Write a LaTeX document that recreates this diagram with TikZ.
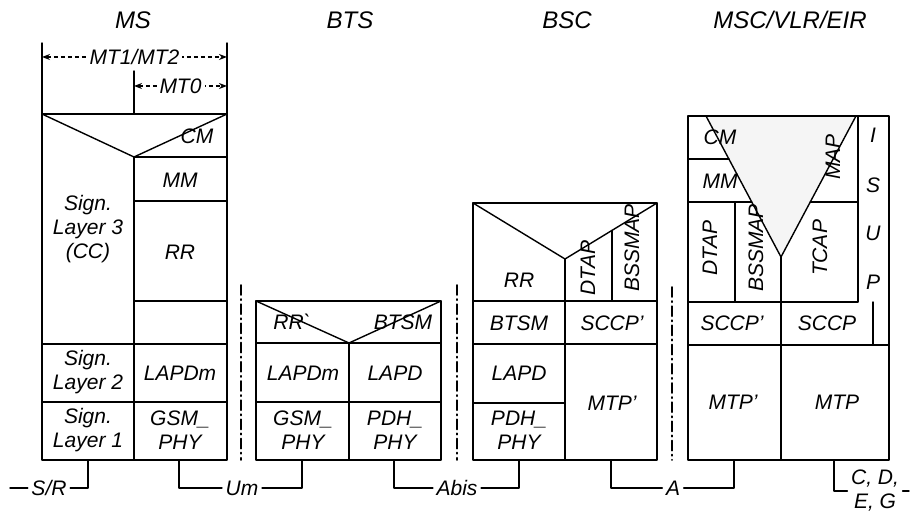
\documentclass[tikz,border=0pt]{standalone}
\usepackage{fontspec}
\setmainfont{Liberation Sans}
\usetikzlibrary{arrows.meta}
\begin{document}
\begin{tikzpicture}[x=0.5pt,y=-0.5pt,line join=round,line cap=round,>={Stealth[length=4pt,width=3pt]},line width=0.7pt]
	\tikzset{every node/.style={font=\itshape\fontsize{10.5}{12}\selectfont,align=center,inner sep=1.5pt},
		title/.style={font=\itshape\fontsize{12}{14}\selectfont},
		vert/.style={rotate=90},
		dimline/.style={<->,dash pattern=on 2pt off 1.5pt,line cap=butt},
		sepline/.style={line width=0.9pt,dash pattern=on 5pt off 2pt on 0.6pt off 2pt}}
	\useasboundingbox (0,0) rectangle (911,512);
	% titles
	\node[title] (ms) at (133,20) {MS};
	\node[title] (bts) at (350,20) {BTS};
	\node[title] (bsc) at (567,20) {BSC};
	\node[title] (msc) at (790,20) {MSC/VLR/EIR};
	% MS
	\draw (42,43)--(42,460)--(227,460)--(227,43);
	\draw (134,71)--(134,114);
	\draw (42,114)--(227,114);
	\draw (42,114)--(134,157)--(227,114);
	\draw (134,157)--(134,460);
	\foreach \y in {157,201,301}
	\draw (134,\y)--(227,\y);
	\foreach \y in {344,402}
	\draw (42,\y)--(227,\y);
	\draw[dimline] (42,57)--(227,57) node[midway,fill=white] (mt12) {MT1/MT2};
	\draw[dimline] (134,86)--(227,86) node[midway,fill=white] (mt0) {MT0};
	\node (mscm) at (197,136) {CM};
	\node (msmm) at (180,180) {MM};
	\node (msrr) at (180,252) {RR};
	\node (mssl3) at (88,229) {Sign.\\Layer 3\\(CC)};
	\node (mssl2) at (88,372) {Sign.\\Layer 2};
	\node (mslapdm) at (180,373) {LAPDm};
	\node (mssl1) at (88,430) {Sign.\\Layer 1};
	\node (msphy) at (180,430) {GSM\_\\PHY};
	% BTS
	\draw (256,301) rectangle (441,460);
	\draw (256,301)--(349,343)--(441,301);
	\draw (349,343)--(349,460);
	\foreach \y in {343,402}
	\draw (256,\y)--(441,\y);
	\node (btsrr) at (292,322) {RR\textasciigrave};
	\node (btsbtsm) at (403,322) {BTSM};
	\node (btslapdm) at (303,373) {LAPDm};
	\node (btslapd) at (395,373) {LAPD};
	\node (btsgsm) at (303,430) {GSM\_\\PHY};
	\node (btspdh) at (395,430) {PDH\_\\PHY};
	% BSC
	\draw (473,203) rectangle (657,460);
	\draw (473,203)--(565,259)--(657,203);
	\draw (565,259)--(565,460);
	\draw (612,230.4)--(612,301);
	\foreach \y in {301,344}
	\draw (473,\y)--(657,\y);
	\draw (473,403)--(565,403);
	\node (bscrr) at (519,280) {RR};
	\node[vert] (bscdtap) at (588,268) {DTAP};
	\node[vert] (bscbssmap) at (632,248) {BSSMAP};
	\node (bscbtsm) at (519,323) {BTSM};
	\node (bscsccp) at (612,323) {SCCP'};
	\node (bsclapd) at (519,373) {LAPD};
	\node (bscpdh) at (519,430) {PDH\_\\PHY};
	\node (bscmtp) at (612,403) {MTP'};
	% MSC/VLR/EIR
	\fill[black!4] (706,116)--(781,257)--(856,116)--cycle;
	\draw (688,116) rectangle (889,460);
	\draw (706,116)--(781,257)--(856,116);
	\draw (781,257)--(781,460);
	\draw (688,159)--(728.9,159);
	\draw (688,202)--(751.7,202);
	\draw (810.3,202)--(858,202);
	\draw (735,202)--(735,302);
	\draw (858,116)--(858,302)--(688,302);
	\draw (873,302)--(873,345);
	\draw (688,345)--(889,345);
	\node (msccm) at (720,137) {CM};
	\node (mscmm) at (720,181) {MM};
	\node[vert] (mscmap) at (833,157) {MAP};
	\node[vert] (mscdtap) at (710,248) {DTAP};
	\node[vert] (mscbssmap) at (756,248) {BSSMAP};
	\node[vert] (msctcap) at (820,248) {TCAP};
	\foreach \l/\y in {I/135,S/185,U/233,P/282}
	\node (isup\l) at (873,\y) {\l};
	\node (mscsccpp) at (732,323) {SCCP'};
	\node (mscsccp) at (827,323) {SCCP};
	\node (mscmtpp) at (733,402) {MTP'};
	\node (mscmtp) at (837,402) {MTP};
	% separators
	\foreach \x/\y in {241/285,457/285,672/287}
	\draw[sepline] (\x,\y)--(\x,460);
	% interfaces
	\foreach \n/\x in {msa/88,msb/179,btsa/302,btsb/394,bsca/519,bscb/611,msca/734,mscb/834}
	\coordinate (\n) at (\x,460);
	\coordinate (srend) at (10,488);
	\coordinate (cdend) at (909,491);
	\node (sr) at (49,488) {S/R};
	\node (um) at (242,488) {Um};
	\node (abis) at (457,488) {Abis};
	\node (a) at (673,488) {A};
	\node (cdeg) at (875,491) {C, D,\\E, G};
	\draw (msa) |- (sr);
	\draw (sr)--(srend);
	\draw (msb) |- (um);
	\draw (btsa) |- (um);
	\draw (btsb) |- (abis);
	\draw (bsca) |- (abis);
	\draw (bscb) |- (a);
	\draw (msca) |- (a);
	\draw (mscb) |- (cdeg);
	\draw (cdeg)--(cdend);
\end{tikzpicture}
\end{document}
